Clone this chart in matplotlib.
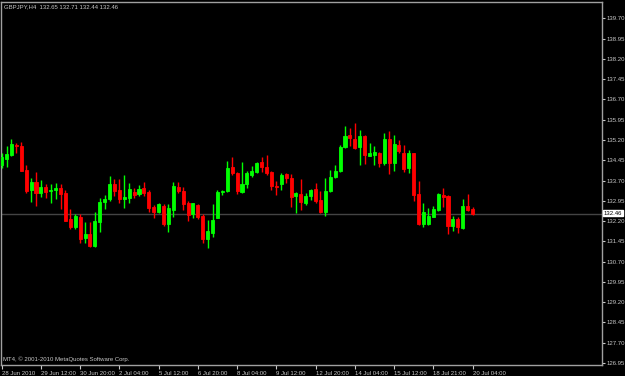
import matplotlib
matplotlib.use("Agg")
import matplotlib.pyplot as plt
import numpy as np

symbol_title = "GBPJPY,H4  132.65 132.71 132.44 132.46"
copyright_text = "MT4, \u00a9 2001-2010 MetaQuotes Software Corp."

opens = [134.26, 134.51, 134.66, 135.03, 134.98, 134.09, 133.35, 133.66, 133.24, 133.46,
         133.30, 133.35, 133.44, 133.24, 132.27, 131.97, 132.36, 131.59, 131.74, 131.28,
         132.18, 132.89, 133.02, 133.57, 133.35, 133.02, 133.07, 133.29, 133.19, 133.44,
         133.28, 132.73, 132.52, 132.77, 132.09, 132.61, 133.47, 133.31, 132.88, 132.46,
         132.80, 132.39, 131.53, 131.77, 132.30, 133.28, 133.30, 134.19, 133.97, 133.29,
         133.56, 133.90, 134.00, 134.37, 134.21, 134.02, 133.50, 133.57, 133.94, 133.81,
         133.13, 133.19, 132.86, 133.14, 133.39, 132.98, 132.55, 133.31, 133.84, 134.07, 134.93,
         135.38, 135.24, 134.93, 135.36, 134.62, 134.66, 134.73, 134.34, 135.24, 134.34,
         135.01, 134.73, 134.18, 134.71, 133.20, 132.08, 132.09, 132.36, 132.61, 133.15,
         133.13, 132.02, 132.28, 131.95, 132.77, 132.65]
highs = [134.71, 134.98, 135.22, 135.10, 135.13, 134.29, 133.81, 134.03, 133.72, 133.56,
         133.56, 133.61, 133.56, 133.34, 132.64, 132.45, 132.45, 132.17, 132.17, 132.55,
         133.04, 133.17, 133.87, 133.74, 133.74, 133.90, 133.60, 133.44, 133.52, 133.63,
         133.34, 132.78, 132.88, 132.83, 132.83, 133.66, 133.66, 133.47, 132.96, 132.88,
         132.83, 132.46, 132.24, 132.83, 133.35, 133.35, 134.43, 134.58, 134.00, 134.37,
         134.04, 134.24, 134.40, 134.58, 134.64, 134.04, 133.68, 133.99, 133.99, 133.94,
         133.29, 133.74, 133.23, 133.38, 133.62, 133.33, 133.78, 134.09, 134.27, 135.01, 135.72,
         135.63, 135.82, 135.57, 135.38, 135.08, 134.99, 134.77, 135.45, 135.54, 135.38,
         135.20, 135.01, 134.83, 134.71, 133.68, 132.86, 132.67, 132.77, 133.25, 133.41,
         133.17, 132.39, 132.34, 133.02, 133.20, 132.71]
lows = [134.15, 134.19, 134.61, 134.73, 134.04, 133.23, 132.92, 132.77, 133.10, 133.07,
        132.86, 133.01, 132.64, 132.20, 131.90, 131.92, 131.38, 131.40, 131.25, 131.25,
        131.81, 132.65, 132.93, 133.14, 132.86, 132.70, 132.86, 133.07, 133.14, 133.14,
        132.55, 132.33, 132.49, 132.02, 131.81, 132.34, 133.23, 132.61, 132.22, 132.30,
        132.27, 131.38, 131.19, 131.60, 132.30, 133.17, 133.28, 133.90, 133.20, 133.23,
        133.44, 133.84, 133.97, 134.03, 133.90, 133.36, 133.17, 133.35, 133.62, 132.73,
        132.51, 132.61, 132.80, 132.98, 132.88, 132.51, 132.39, 133.26, 133.78, 134.03, 134.89,
        134.98, 134.85, 134.27, 134.31, 134.62, 134.27, 134.21, 134.27, 133.93, 134.07,
        134.71, 134.03, 133.99, 132.96, 132.06, 131.97, 132.06, 132.34, 132.57, 132.71,
        131.72, 131.85, 131.75, 131.92, 132.59, 132.44]
closes = [134.56, 134.68, 135.05, 134.99, 134.07, 133.33, 133.66, 133.25, 133.46, 133.29,
          133.36, 133.41, 133.21, 132.22, 131.97, 132.39, 131.55, 131.74, 131.29, 132.20,
          132.91, 133.02, 133.57, 133.33, 133.03, 133.08, 133.38, 133.17, 133.39, 133.23,
          132.70, 132.52, 132.83, 132.09, 132.67, 133.50, 133.31, 132.83, 132.43, 132.86,
          132.34, 131.53, 131.83, 132.24, 133.26, 133.31, 134.18, 133.97, 133.31, 133.57,
          133.97, 134.05, 134.36, 134.19, 133.97, 133.50, 133.47, 133.90, 133.81, 133.10,
          133.25, 132.89, 133.14, 133.35, 132.96, 132.55, 133.33, 133.84, 134.07, 134.95, 135.36,
          135.26, 134.90, 135.36, 134.65, 134.73, 134.76, 134.36, 135.24, 134.34, 135.05,
          134.78, 134.13, 134.73, 133.17, 132.08, 132.55, 132.39, 132.63, 133.19, 133.10,
          132.02, 132.28, 131.97, 132.77, 132.61, 132.46]

time_labels = ["28 Jun 2010", "29 Jun 12:00", "30 Jun 20:00", "2 Jul 04:00", "5 Jul 12:00",
               "6 Jul 20:00", "8 Jul 04:00", "9 Jul 12:00", "12 Jul 20:00", "14 Jul 04:00",
               "15 Jul 12:00", "18 Jul 21:00", "20 Jul 04:00"]
price_ticks = [126.95, 127.70, 128.45, 129.20, 129.95, 130.70, 131.45, 132.20, 132.95,
               133.70, 134.45, 135.20, 135.95, 136.70, 137.45, 138.20, 138.95, 139.70]
bid_price = 132.46

plt.rcParams["font.family"] = ["Liberation Sans", "DejaVu Sans"]
FS = 4.3

W, H = 625, 376
fig = plt.figure(figsize=(W / 100, H / 100), dpi=100, facecolor="black")
ax = fig.add_axes([1 / W, 1 - 365 / H, 601 / W, 363 / H], facecolor="black")

o = np.array(opens); h = np.array(highs); l = np.array(lows); c = np.array(closes)
x = np.arange(len(o))
up = c >= o
colors = np.where(up, "#00ff00", "#ff0000")

ax.vlines(x, l, h, colors=colors, linewidth=1.0, zorder=3)
body_bottom = np.minimum(o, c)
body_height = np.abs(c - o)
ax.bar(x, body_height, bottom=body_bottom, width=0.62, color=colors,
       edgecolor=colors, linewidth=0.6, zorder=4)

ax.axhline(bid_price, color="#444444", linewidth=1.0, zorder=2)

ax.set_xlim(-0.14, 122.4)
ax.set_ylim(126.878, 140.303)

fg = "#c8c8c8"
for s in ax.spines.values():
    s.set_color("#a0a0a0")
    s.set_linewidth(1.0)

ax.yaxis.tick_right()
ax.set_yticks(price_ticks)
ax.set_yticklabels([f"{p:.2f}" for p in price_ticks])
ax.tick_params(axis="y", colors=fg, labelsize=FS, length=2, width=0.8, pad=1.5,
               labelcolor=fg)

xt = np.arange(0, 8 * len(time_labels), 8)
ax.set_xticks(xt)
ax.set_xticklabels(time_labels, ha="left")
ax.tick_params(axis="x", colors=fg, labelsize=FS, length=3, width=0.8, pad=1,
               labelcolor=fg)

ax.text(1.003, bid_price + 0.03, f"{bid_price:.2f}", transform=ax.get_yaxis_transform(),
        fontsize=FS, color="black", va="center", ha="left",
        bbox=dict(boxstyle="square,pad=0.1", facecolor="white", edgecolor="white"),
        zorder=10, clip_on=False)

fig.text(4 / W, 1 - 7 / H, symbol_title, fontsize=FS, color=fg, va="center", ha="left")
fig.text(3 / W, 1 - 359 / H, copyright_text, fontsize=FS, color=fg, va="center", ha="left")

fig.savefig("out.png", dpi=100, facecolor="black")
